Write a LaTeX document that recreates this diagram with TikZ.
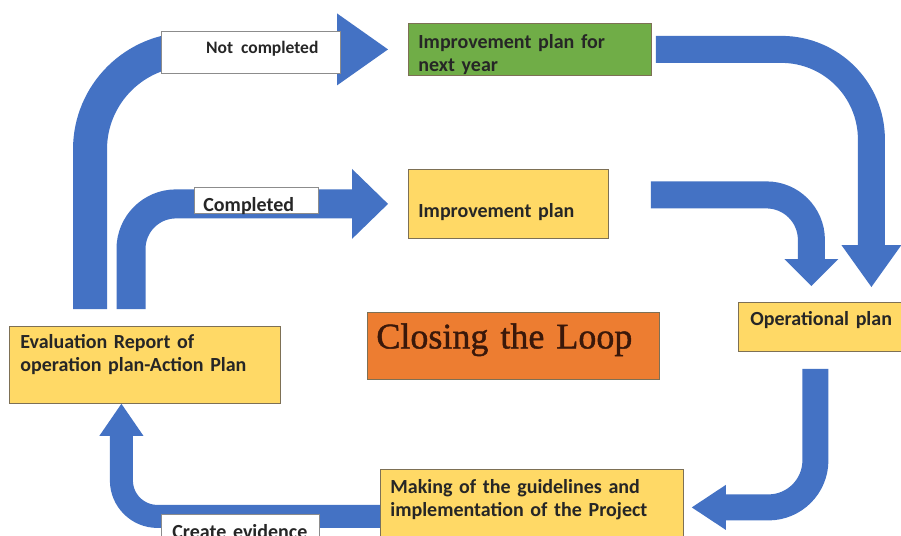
\documentclass[tikz,border=0pt]{standalone}
\usepackage{fontspec}
\setmainfont{Carlito}
\newfontfamily\loopfont[FakeBold=1.2]{Liberation Serif}
\usepackage{tikz}
\usetikzlibrary{arrows.meta}
\definecolor{flowblue}{RGB}{68,114,196}
\definecolor{planyellow}{RGB}{255,217,102}
\definecolor{plangreen}{RGB}{112,173,71}
\definecolor{looporange}{RGB}{237,125,49}
\definecolor{boxrim}{RGB}{125,112,85}
\definecolor{loopbrown}{RGB}{58,24,10}

\begin{document}
\begin{tikzpicture}[x=1pt,y=-1pt,
	plan/.style={draw=boxrim,line width=0.8pt,anchor=north west,inner xsep=10pt,inner ysep=0pt,align=left,
		font=\bfseries\fontsize{20}{23}\selectfont,text=black!85},
	tag/.style={plan,fill=white,draw=black!45},
	flow/.style={draw=flowblue}]
		\clip (0,0) rectangle (901,535);
		\fill[white] (0,0) rectangle (901,535);
		\node[plan,fill=plangreen,at={(408,23)},text width=223pt,text height=25pt,text depth=27pt] (nextyr) {Improvement plan for\\next year};
		\node[plan,fill=planyellow,at={(408,169)},text width=180pt,text height=48pt,text depth=21pt] (impr) {Improvement plan};
		\node[plan,fill=planyellow,at={(738,302)},inner xsep=12pt,text width=142pt,text height=23pt,text depth=26pt] (oper) {Operational plan};
		\node[plan,fill=planyellow,at={(9,326)},inner xsep=11pt,text width=249pt,text height=22pt,text depth=55pt] (eval) {Evaluation Report of\\operation plan-Action Plan};
		\node[plan,fill=planyellow,at={(380,469)},text width=283pt,text height=24pt,text depth=52pt] (make) {Making of the guidelines and\\implementation of the Project};
		\node[plan,fill=looporange,at={(367,312)},inner xsep=9pt,text width=274pt,text height=36pt,text depth=31pt,
			font=\loopfont\fontsize{36}{40}\selectfont,text=loopbrown] (loop) {Closing the Loop};
		\coordinate (nd) at (90,309);
		\coordinate (dn) at (131,309);
		\draw[flow,line width=34pt,rounded corners=100pt,shorten >=20pt,-{Triangle[length=51pt,width=72pt,line width=0pt]}] (nd) |- (nextyr.west);
		\draw[flow,line width=29pt,rounded corners=45pt,shorten >=20pt,-{Triangle[length=36pt,width=70pt,line width=0pt]}] (dn) |- (impr.west);
		\draw[flow,line width=27pt,rounded corners=90pt,shorten <=4pt,shorten >=15pt,-{Triangle[length=42pt,width=60pt,line width=0pt]}] (nextyr.east) -| ([xshift=50pt]oper.north);
		\draw[flow,line width=27pt,rounded corners=45pt,shorten <=42pt,shorten >=16pt,-{Triangle[length=27pt,width=54pt,line width=0pt]}] ([yshift=9pt]impr.east) -| ([xshift=-10pt]oper.north);
		\draw[flow,line width=26pt,rounded corners=47pt,shorten <=17pt,shorten >=8pt,-{Triangle[length=34pt,width=45pt,line width=0pt]}] ([xshift=-6pt]oper.south) |- (make.east);
		\draw[flow,line width=23pt,rounded corners=36pt,-{Triangle[length=32pt,width=44pt,line width=0pt]}] ([yshift=-9pt]make.west) -| ([xshift=-23.5pt]eval.south);
		\node[tag,at={(161,31)},inner xsep=22pt,text width=135pt,align=right,text height=22pt,text depth=20pt,
			font=\bfseries\fontsize{17.5}{21}\selectfont] (notdone) {Not\hspace{0.45em}completed};
		\node[tag,at={(194,187)},inner xsep=9pt,text width=106pt,text height=24pt,text depth=2pt] (done) {Completed};
		\node[tag,at={(161,514)},inner xsep=11pt,text width=136pt,text height=24pt,text depth=14pt] (evid) {Create evidence};
\end{tikzpicture}
\end{document}
